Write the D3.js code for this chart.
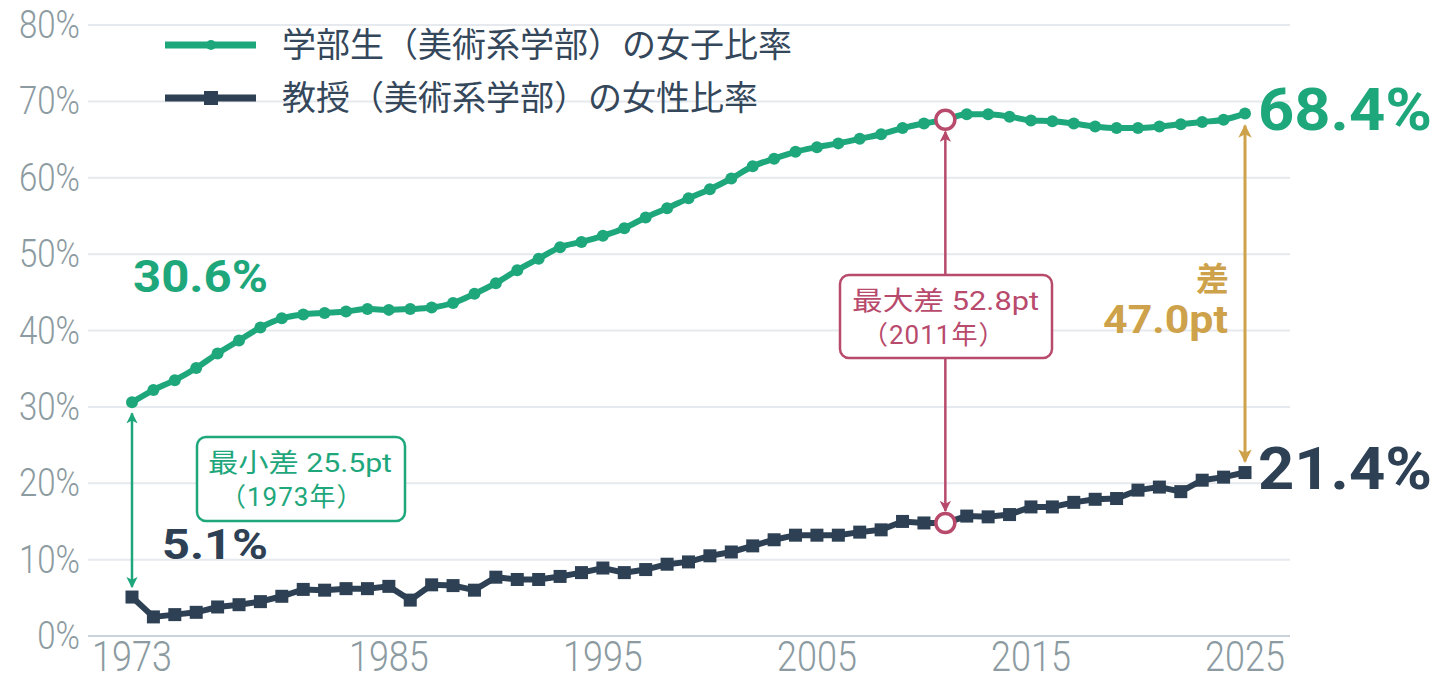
<!DOCTYPE html>
<html><head><meta charset="utf-8">
<script src="https://cdn.jsdelivr.net/npm/d3@7"></script>
<style>
html,body{margin:0;padding:0;background:#fff;}
text{font-family:Roboto,"Noto Sans CJK JP",sans-serif;}
</style></head>
<body><svg id="c" width="1440" height="674"></svg>
<script>
const years = d3.range(1973, 2026);
const students = [30.6,32.2,33.5,35.1,37.0,38.7,40.4,41.6,42.1,42.3,42.5,42.8,42.7,42.8,43.0,43.6,44.8,46.2,47.9,49.4,50.9,51.6,52.4,53.4,54.8,56.0,57.3,58.5,59.9,61.5,62.5,63.4,64.0,64.5,65.1,65.7,66.5,67.1,67.6,68.3,68.3,68.0,67.5,67.4,67.1,66.7,66.5,66.5,66.7,67.0,67.3,67.6,68.4];
const professors = [5.1,2.5,2.8,3.1,3.8,4.1,4.5,5.2,6.1,6.0,6.2,6.2,6.5,4.7,6.7,6.6,6.0,7.7,7.4,7.4,7.8,8.3,8.9,8.3,8.7,9.4,9.7,10.5,11.0,11.8,12.6,13.2,13.2,13.2,13.6,13.9,15.0,14.8,14.8,15.7,15.6,15.9,16.9,16.9,17.5,17.9,18.0,19.1,19.5,18.9,20.4,20.8,21.4];
const yTicks = [0,10,20,30,40,50,60,70,80];
const xTicks = [1973,1985,1995,2005,2015,2025];
const seriesNames = ["学部生（美術系学部）の女子比率","教授（美術系学部）の女性比率"];

const GREEN="#1fa77c", NAVY="#2d4054", CRIM="#b84a6c", GOLD="#cda24a", GRAY="#8c9ba1";
const svg = d3.select("#c");
const x = d3.scaleLinear().domain([1973,2025]).range([132,1245]);
const y = d3.scaleLinear().domain([0,80]).range([636,25]);
const gx0 = 88, gx1 = 1290;

// grid
svg.append("g").selectAll("line").data(yTicks).join("line")
  .attr("x1",gx0).attr("x2",gx1).attr("y1",d=>y(d)).attr("y2",d=>y(d))
  .attr("stroke",d=>d===0?"#ccd3d8":"#e6e9ed").attr("stroke-width",2);
svg.append("g").selectAll("text").data(yTicks).join("text")
  .attr("transform",d=>`translate(80,${y(d)+13}) scale(1,1.15)`).attr("text-anchor","end")
  .attr("font-size",33).attr("font-weight",300).attr("fill",GRAY).text(d=>d+"%");
svg.append("g").selectAll("text").data(xTicks).join("text")
  .attr("transform",d=>`translate(${x(d)},671) scale(1,1.2)`).attr("text-anchor","middle")
  .attr("font-size",36).attr("font-weight",300).attr("fill",GRAY).text(d=>d);

// lines
const sData = years.map((yr,i)=>[yr,students[i]]);
const pData = years.map((yr,i)=>[yr,professors[i]]);
svg.append("path").datum(sData).attr("fill","none").attr("stroke",GREEN).attr("stroke-width",6)
  .attr("stroke-linejoin","round")
  .attr("d",d3.line().x(d=>x(d[0])).y(d=>y(d[1])).curve(d3.curveMonotoneX));
svg.append("g").selectAll("circle").data(sData.filter(d=>d[0]!==2011)).join("circle")
  .attr("cx",d=>x(d[0])).attr("cy",d=>y(d[1])).attr("r",6).attr("fill",GREEN);
svg.append("path").datum(pData).attr("fill","none").attr("stroke",NAVY).attr("stroke-width",6)
  .attr("stroke-linejoin","miter")
  .attr("d",d3.line().x(d=>x(d[0])).y(d=>y(d[1])));
svg.append("g").selectAll("rect").data(pData.filter(d=>d[0]!==2011)).join("rect")
  .attr("x",d=>x(d[0])-6.5).attr("y",d=>y(d[1])-6.5).attr("width",13).attr("height",13).attr("fill",NAVY);

// legend
const lg = svg.append("g");
[[GREEN,45,"c"],[NAVY,98,"s"]].forEach(([c,ly,m],i)=>{
  lg.append("line").attr("x1",165).attr("x2",256).attr("y1",ly).attr("y2",ly).attr("stroke",c).attr("stroke-width",7);
  if(m==="c") lg.append("circle").attr("cx",211).attr("cy",ly).attr("r",5).attr("fill",c);
  else lg.append("rect").attr("x",204).attr("y",ly-7).attr("width",14).attr("height",14).attr("fill",c);
  lg.append("text").attr("x",282).attr("y",ly+12).attr("font-size",34).attr("fill","#34475b")
    .attr("font-family","'Noto Sans CJK JP',sans-serif").text(seriesNames[i]);
});

// markers
const defs = svg.append("defs");
function mk(id,c){
  defs.append("marker").attr("id",id).attr("viewBox","0 0 10 10").attr("refX",9).attr("refY",5)
   .attr("markerWidth",4.5).attr("markerHeight",4.5).attr("orient","auto-start-reverse").attr("markerUnits","strokeWidth")
   .append("path").attr("d","M0,0 L10,5 L0,10 L2.5,5 Z").attr("fill",c);
}
mk("ag",GREEN); mk("ac",CRIM); mk("ao",GOLD);

// min gap 1973
const x73 = x(1973);
svg.append("line").attr("x1",x73).attr("x2",x73).attr("y1",y(students[0])+11).attr("y2",y(professors[0])-10)
  .attr("stroke",GREEN).attr("stroke-width",2.5).attr("marker-start","url(#ag)").attr("marker-end","url(#ag)");
svg.append("rect").attr("x",197).attr("y",437).attr("width",208).attr("height",84).attr("rx",9)
  .attr("fill","#fff").attr("stroke",GREEN).attr("stroke-width",2.5);
svg.append("text").attr("x",208).attr("y",472).attr("font-size",26).attr("textLength",184).attr("lengthAdjust","spacingAndGlyphs").attr("fill",GREEN)
  .text("最小差 25.5pt");
svg.append("text").attr("x",220).attr("y",506).attr("font-size",26).attr("letter-spacing",1).attr("fill",GREEN)
  .text("（1973年）");

// max gap 2011
const i11 = years.indexOf(2011), x11 = x(2011);
svg.append("line").attr("x1",x11).attr("x2",x11).attr("y1",y(students[i11])+12).attr("y2",y(professors[i11])-12)
  .attr("stroke",CRIM).attr("stroke-width",2.5).attr("marker-start","url(#ac)").attr("marker-end","url(#ac)");
[students[i11],professors[i11]].forEach(v=>{
  svg.append("circle").attr("cx",x11).attr("cy",y(v)).attr("r",9.5).attr("fill","#fff").attr("stroke",CRIM).attr("stroke-width",3.5);
});
svg.append("rect").attr("x",840).attr("y",275).attr("width",212).attr("height",83).attr("rx",9)
  .attr("fill","#fff").attr("stroke",CRIM).attr("stroke-width",2.5);
svg.append("text").attr("x",852).attr("y",310).attr("font-size",26).attr("textLength",187).attr("lengthAdjust","spacingAndGlyphs").attr("fill",CRIM)
  .text("最大差 52.8pt");
svg.append("text").attr("x",862).attr("y",344).attr("font-size",26).attr("letter-spacing",1).attr("fill",CRIM)
  .text("（2011年）");

// 2025 gap
const x25 = x(2025), last = years.length-1;
svg.append("line").attr("x1",x25).attr("x2",x25).attr("y1",y(students[last])+12).attr("y2",y(professors[last])-11)
  .attr("stroke",GOLD).attr("stroke-width",3).attr("marker-start","url(#ao)").attr("marker-end","url(#ao)");
svg.append("text").attr("x",1229).attr("y",291).attr("text-anchor","end").attr("font-size",33).attr("font-weight",700).attr("fill",GOLD)
  .attr("font-family","'Noto Sans CJK JP',sans-serif").text("差");
svg.append("text").attr("x",1103).attr("y",333).attr("font-size",39).attr("font-weight",700)
  .attr("textLength",125).attr("lengthAdjust","spacingAndGlyphs").attr("fill",GOLD).text("47.0pt");

// value labels
function big(tx,ty,fs,len,col,t){
  svg.append("text").attr("x",tx).attr("y",ty).attr("font-size",fs).attr("font-weight",700)
    .attr("textLength",len).attr("lengthAdjust","spacingAndGlyphs").attr("fill",col).text(t);
}
big(133,292,44,135,GREEN,"30.6%");
big(162,559,42,106,NAVY,"5.1%");
big(1258,130,59,174,GREEN,"68.4%");
big(1258,489,59,174,NAVY,"21.4%");
</script></body></html>
